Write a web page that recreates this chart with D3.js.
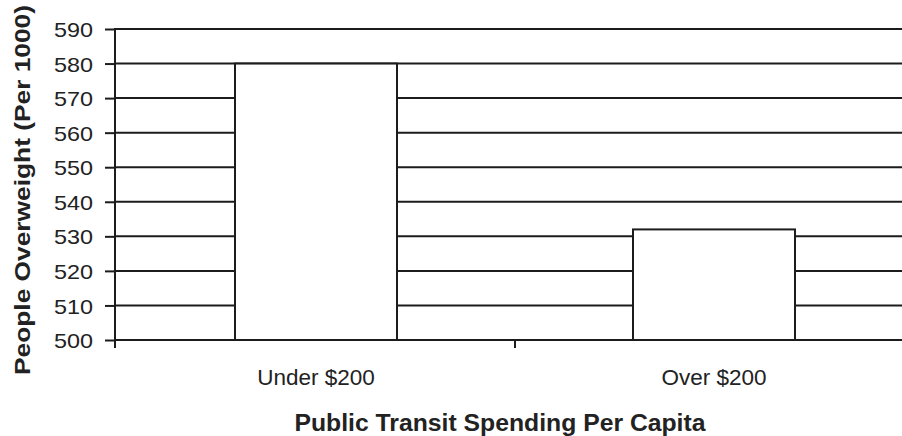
<!DOCTYPE html>
<html>
<head>
<meta charset="utf-8">
<script src="https://cdn.jsdelivr.net/npm/d3@7/dist/d3.min.js"></script>
<style>
  html, body { margin: 0; padding: 0; background: #fff; }
  svg { display: block; }
  text { font-family: "Liberation Sans", Arial, sans-serif; fill: #222; }
</style>
</head>
<body>
<svg id="chart" width="902" height="436"></svg>
<script>
// Overweight people per 1000 by public transit spending per capita
const categories = ["Under $200", "Over $200"];
const values = [580, 532];
const yTicks = [500, 510, 520, 530, 540, 550, 560, 570, 580, 590];
const yTitle = "People Overweight (Per 1000)";
const xTitle = "Public Transit Spending Per Capita";

const svg = d3.select("#chart");
const ink = "#1c1c1c";

const plot = { left: 115, bandStart: 117, right: 913, top: 29, bottom: 340 };

const x = d3.scaleBand()
  .domain(categories)
  .range([plot.bandStart, plot.right])
  .padding(0);

const y = d3.scaleLinear()
  .domain([500, 590])
  .range([plot.bottom, plot.top]);

// horizontal gridlines
svg.append("g")
  .selectAll("line")
  .data(yTicks)
  .join("line")
  .attr("x1", plot.left)
  .attr("x2", 902)
  .attr("y1", d => y(d))
  .attr("y2", d => y(d))
  .attr("stroke", ink)
  .attr("stroke-width", 2);

// bars
const barW = x.bandwidth() * 0.407;
svg.append("g")
  .selectAll("rect")
  .data(categories)
  .join("rect")
  .attr("x", (d, i) => x(d) + x.bandwidth() / 2 - barW / 2)
  .attr("y", (d, i) => y(values[i]))
  .attr("width", barW)
  .attr("height", (d, i) => y(500) - y(values[i]))
  .attr("fill", "#fff")
  .attr("stroke", ink)
  .attr("stroke-width", 2);

// y axis
const yAxis = d3.axisLeft(y)
  .tickValues(yTicks)
  .tickSize(10)
  .tickPadding(12)
  .tickFormat(d3.format("d"));
const gy = svg.append("g")
  .attr("transform", `translate(${plot.left},0)`)
  .call(yAxis);
gy.select(".domain").remove();
gy.selectAll(".tick line").attr("stroke", ink).attr("stroke-width", 2);
gy.selectAll(".tick text")
  .attr("font-size", 21)
  .attr("fill", "#2a2a2a")
  .attr("dy", "0.36em")
  .attr("textLength", 39)
  .attr("lengthAdjust", "spacingAndGlyphs")
  .style("font-family", "'Liberation Sans', Arial, sans-serif");
gy.append("line")
  .attr("x1", 0).attr("x2", 0)
  .attr("y1", plot.top - 1)
  .attr("y2", plot.bottom + 8)
  .attr("stroke", ink)
  .attr("stroke-width", 2);

// x axis: ticks sit on the category boundaries
const gx = svg.append("g")
  .attr("transform", `translate(0,${plot.bottom})`);
gx.append("line")
  .attr("x1", plot.left).attr("x2", 902)
  .attr("y1", 0).attr("y2", 0)
  .attr("stroke", ink).attr("stroke-width", 2);
const bounds = categories.map(c => x(c)).concat([x(categories[categories.length - 1]) + x.bandwidth()]);
bounds[0] = plot.left;
gx.selectAll("line.bt")
  .data(bounds)
  .join("line")
  .attr("class", "bt")
  .attr("x1", d => d).attr("x2", d => d)
  .attr("y1", 0).attr("y2", 8)
  .attr("stroke", ink).attr("stroke-width", 2);
gx.selectAll("text.cat")
  .data(categories)
  .join("text")
  .attr("class", "cat")
  .attr("x", d => x(d) + x.bandwidth() / 2)
  .attr("y", 45)
  .attr("text-anchor", "middle")
  .attr("font-size", 22.5)
  .attr("fill", "#2a2a2a")
  .text(d => d);

// axis titles
svg.append("text")
  .attr("transform", "translate(30,190) rotate(-90)")
  .attr("text-anchor", "middle")
  .attr("font-size", 22)
  .attr("font-weight", "bold")
  .attr("fill", "#111")
  .text(yTitle)
  .each(function () {
    this.setAttribute("textLength", 370);
    this.setAttribute("lengthAdjust", "spacingAndGlyphs");
  });

svg.append("text")
  .attr("x", 500)
  .attr("y", 431)
  .attr("text-anchor", "middle")
  .attr("font-size", 23)
  .attr("font-weight", "bold")
  .attr("fill", "#111")
  .text(xTitle)
  .each(function () {
    this.setAttribute("textLength", 411);
    this.setAttribute("lengthAdjust", "spacingAndGlyphs");
  });
</script>
</body>
</html>
